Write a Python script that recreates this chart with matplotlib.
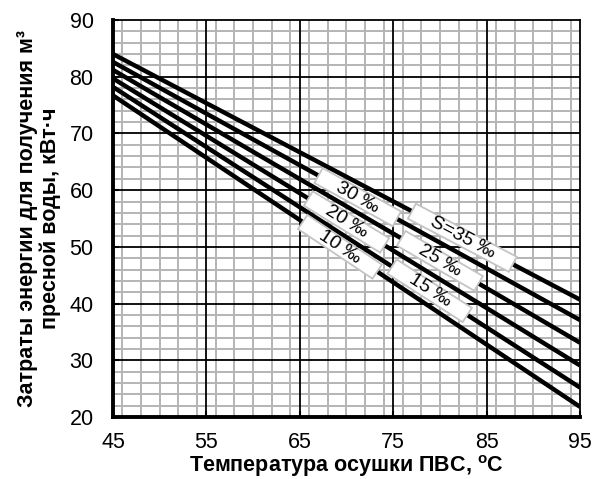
import numpy as np
import matplotlib
matplotlib.use('Agg')
import matplotlib.pyplot as plt
from matplotlib.ticker import MultipleLocator

plt.rcParams['font.family'] = ['Liberation Sans', 'DejaVu Sans']
plt.rcParams['mathtext.fontset'] = 'custom'
plt.rcParams['mathtext.rm'] = 'Liberation Sans'
plt.rcParams['mathtext.bf'] = 'Liberation Sans:bold'

# salinity curves: energy at 45 and 95 degC
temps = [45, 95]
salinity = ['S=35 ‰', '30 ‰', '25 ‰', '20 ‰', '15 ‰', '10 ‰']
energy_45 = [84.0, 82.6, 81.2, 79.7, 78.2, 76.7]
energy_95 = [40.7, 37.1, 33.1, 29.1, 25.2, 21.8]
# where each label sits (temperature)
label_x = [82.4, 71.2, 80.0, 70.0, 78.9, 69.3]

fig = plt.figure(figsize=(5.99, 4.79), dpi=100)
ax = fig.add_axes([0.1886, 0.1294, 0.9683 - 0.1886, 0.9582 - 0.1294])

ax.set_xlim(45, 95)
ax.set_ylim(20, 90)
ax.set_xticks([45, 55, 65, 75, 85, 95])
ax.set_yticks([20, 30, 40, 50, 60, 70, 80, 90])
ax.xaxis.set_minor_locator(MultipleLocator(2))
ax.yaxis.set_minor_locator(MultipleLocator(2))
ax.grid(which='minor', color='#b4b4b4', lw=1.4, zorder=0)
ax.set_axisbelow(True)

# major grid on top of the minor one
for xv in [55, 65, 75, 85]:
    ax.axvline(xv, color='black', lw=1.3, zorder=1)
for yv in [30, 40, 50, 60, 70, 80]:
    ax.axhline(yv, color='black', lw=1.3, zorder=1)

for i in range(len(salinity)):
    ax.plot(temps, [energy_45[i], energy_95[i]], color='black', lw=3.2,
            solid_capstyle='butt', zorder=3)
    slope = (energy_95[i] - energy_45[i]) / (temps[1] - temps[0])
    yl = energy_45[i] + slope * (label_x[i] - temps[0])
    ang = np.degrees(np.arctan(slope))
    ax.text(label_x[i], yl, '    ' + salinity[i] + '    ', fontsize=14,
            rotation=ang, transform_rotates_text=True,
            rotation_mode='anchor', ha='center', va='center', zorder=5,
            bbox=dict(boxstyle='square,pad=0.0', fc='white',
                      ec='#c4c4c4', lw=1.3))

for s in ['left', 'bottom']:
    ax.spines[s].set_linewidth(2.8)
for s in ['top', 'right']:
    ax.spines[s].set_linewidth(1.3)

ax.tick_params(which='major', direction='in', length=4, width=1.5,
               labelsize=15.5)
ax.tick_params(axis='y', pad=14)
ax.tick_params(axis='x', pad=11)
ax.tick_params(which='minor', length=0)

ax.set_xlabel('Температура осушки ПВС, $^{\\mathbf{o}}$C', fontsize=15.5,
              fontweight='bold', labelpad=0)
ax.set_ylabel('Затраты энергии для получения м³\nпресной воды, кВт·ч',
              fontsize=15.5, fontweight='bold', labelpad=6, linespacing=1.1)

fig.savefig('out.png', dpi=100)
